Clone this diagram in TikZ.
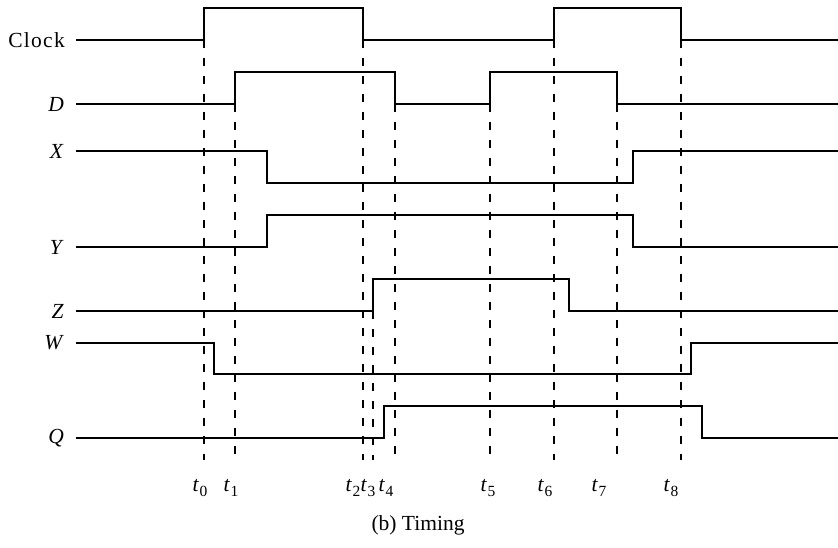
\documentclass[tikz,border=0pt]{standalone}
\usepackage{fontspec}
\setmainfont{Liberation Serif}
\newcommand{\tsub}[1]{\textit{t}\kern0.5pt\raisebox{-0.45ex}{\fontsize{15.5}{15.5}\selectfont #1}}
\begin{document}
\begin{tikzpicture}[x=1pt,y=-1pt,
  sig/.style={line width=1.3pt, line join=miter},
  guide/.style={line width=1.1pt, dash pattern=on 8pt off 10pt},
  lab/.style={anchor=east, inner sep=0pt, font=\fontsize{21.5}{21.5}\selectfont},
  tlab/.style={inner sep=0pt, font=\fontsize{21.5}{21.5}\selectfont}]
\useasboundingbox (0,0) rectangle (838,547);
% labels
\node[lab] (lclk) at (64,40) {\addfontfeature{LetterSpace=6}Clock\kern-1pt};
\node[lab] (lD) at (64,104) {\textit{D}};
\node[lab] (lX) at (64,151) {\textit{X}};
\node[lab] (lY) at (64,247) {\textit{Y}};
\node[lab] (lZ) at (64,311) {\textit{Z}};
\node[lab] (lW) at (64,343) {\textit{W}};
\node[lab] (lQ) at (64,438) {\textit{Q}};
% dashed time markers
\draw[guide] (204,40) -- (204,460);
\draw[guide] (235,104) -- (235,460);
\draw[guide] (363,40) -- (363,460);
\draw[guide] (373,311) -- (373,460);
\draw[guide] (395,104) -- (395,460);
\draw[guide] (490,104) -- (490,460);
\draw[guide] (554,40) -- (554,460);
\draw[guide] (617,104) -- (617,460);
\draw[guide] (681,40) -- (681,460);
% signals
\draw[sig] (76,40) -- (204,40) -- (204,8) -- (363,8) -- (363,40) -- (554,40) -- (554,8) -- (681,8) -- (681,40) -- (838,40);
\draw[sig] (76,104) -- (235,104) -- (235,72) -- (395,72) -- (395,104) -- (490,104) -- (490,72) -- (617,72) -- (617,104) -- (838,104);
\draw[sig] (76,151) -- (267,151) -- (267,183) -- (633,183) -- (633,151) -- (838,151);
\draw[sig] (76,247) -- (267,247) -- (267,215) -- (633,215) -- (633,247) -- (838,247);
\draw[sig] (76,311) -- (373,311) -- (373,279) -- (569,279) -- (569,311) -- (838,311);
\draw[sig] (76,343) -- (214,343) -- (214,374) -- (691,374) -- (691,343) -- (838,343);
\draw[sig] (76,438) -- (384,438) -- (384,406) -- (702,406) -- (702,438) -- (838,438);
% time labels
\node[tlab] (t0) at (200,488) {\tsub{0}};
\node[tlab] (t1) at (231,488) {\tsub{1}};
\node[tlab] (t2) at (353,488) {\tsub{2}};
\node[tlab] (t3) at (368,488) {\tsub{3}};
\node[tlab] (t4) at (386,488) {\tsub{4}};
\node[tlab] (t5) at (488,488) {\tsub{5}};
\node[tlab] (t6) at (545,488) {\tsub{6}};
\node[tlab] (t7) at (599,488) {\tsub{7}};
\node[tlab] (t8) at (671,488) {\tsub{8}};
\node[tlab] (cap) at (418,525) {(b) Timing};
\end{tikzpicture}
\end{document}
